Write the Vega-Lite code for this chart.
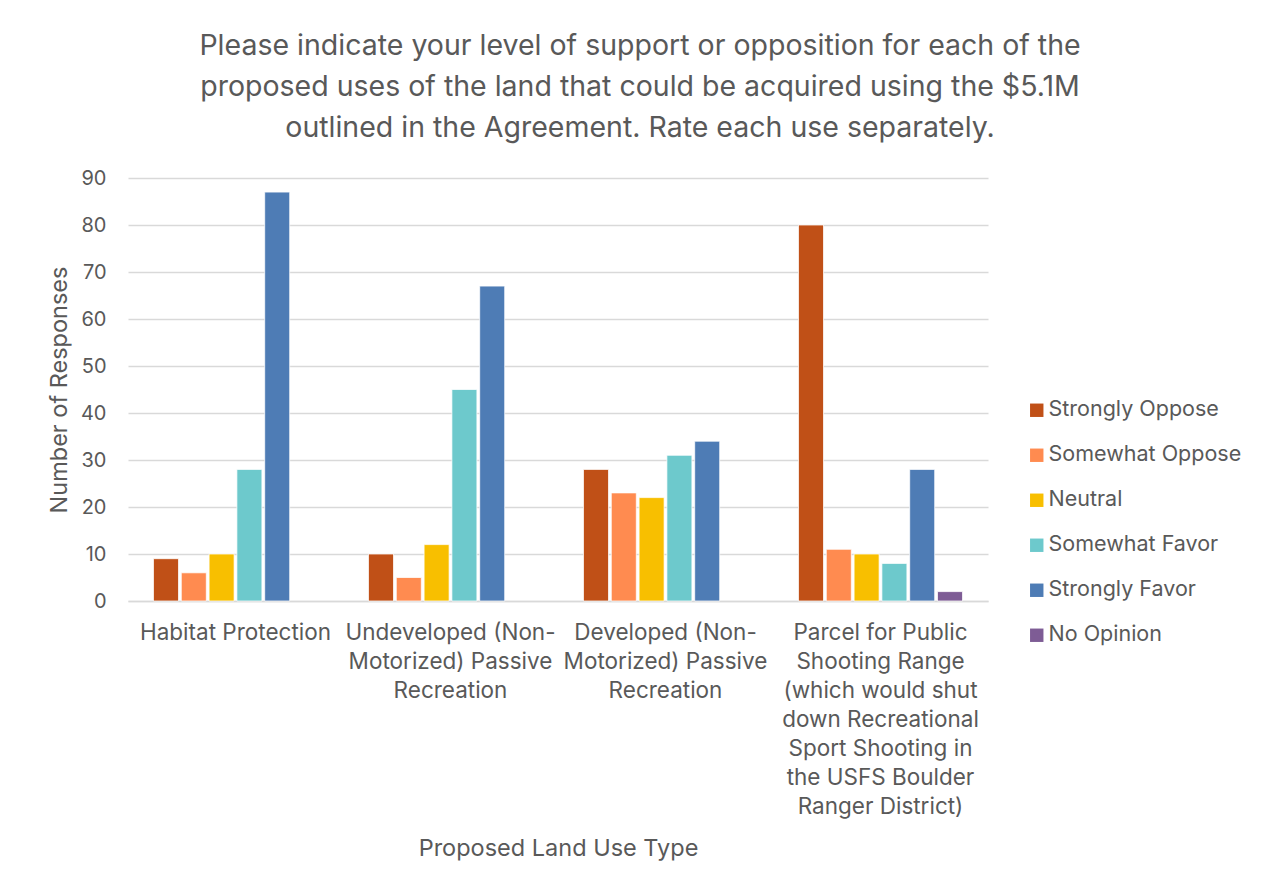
{
  "$schema": "https://vega.github.io/schema/vega-lite/v6.json",
  "width": 860,
  "height": 423,
  "autosize": {"type": "none"},
  "padding": {"left": 128, "top": 178, "right": 283, "bottom": 287},
  "background": "white",
  "title": {
    "text": [
      "Please indicate your level of support or opposition for each of the",
      "proposed uses of the land that could be acquired using the $5.1M",
      "outlined in the Agreement. Rate each use separately."
    ],
    "anchor": "middle",
    "dx": 82,
    "fontSize": 28.5,
    "lineHeight": 41,
    "font": "Inter",
    "fontWeight": "normal",
    "color": "#595959",
    "offset": 26
  },
  "data": {
    "values": [
      {"use": "Habitat Protection", "response": "Strongly Oppose", "count": 9},
      {"use": "Habitat Protection", "response": "Somewhat Oppose", "count": 6},
      {"use": "Habitat Protection", "response": "Neutral", "count": 10},
      {"use": "Habitat Protection", "response": "Somewhat Favor", "count": 28},
      {"use": "Habitat Protection", "response": "Strongly Favor", "count": 87},
      {"use": "Undeveloped (Non-Motorized) Passive Recreation", "response": "Strongly Oppose", "count": 10},
      {"use": "Undeveloped (Non-Motorized) Passive Recreation", "response": "Somewhat Oppose", "count": 5},
      {"use": "Undeveloped (Non-Motorized) Passive Recreation", "response": "Neutral", "count": 12},
      {"use": "Undeveloped (Non-Motorized) Passive Recreation", "response": "Somewhat Favor", "count": 45},
      {"use": "Undeveloped (Non-Motorized) Passive Recreation", "response": "Strongly Favor", "count": 67},
      {"use": "Developed (Non-Motorized) Passive Recreation", "response": "Strongly Oppose", "count": 28},
      {"use": "Developed (Non-Motorized) Passive Recreation", "response": "Somewhat Oppose", "count": 23},
      {"use": "Developed (Non-Motorized) Passive Recreation", "response": "Neutral", "count": 22},
      {"use": "Developed (Non-Motorized) Passive Recreation", "response": "Somewhat Favor", "count": 31},
      {"use": "Developed (Non-Motorized) Passive Recreation", "response": "Strongly Favor", "count": 34},
      {"use": "Parcel for Public Shooting Range", "response": "Strongly Oppose", "count": 80},
      {"use": "Parcel for Public Shooting Range", "response": "Somewhat Oppose", "count": 11},
      {"use": "Parcel for Public Shooting Range", "response": "Neutral", "count": 10},
      {"use": "Parcel for Public Shooting Range", "response": "Somewhat Favor", "count": 8},
      {"use": "Parcel for Public Shooting Range", "response": "Strongly Favor", "count": 28},
      {"use": "Parcel for Public Shooting Range", "response": "No Opinion", "count": 2}
    ]
  },
  "mark": {"type": "bar", "stroke": "white", "strokeWidth": 0.75},
  "encoding": {
    "x": {
      "field": "use",
      "type": "nominal",
      "sort": null,
      "scale": {"paddingInner": 0.237, "paddingOuter": 0.1185},
      "axis": {
        "title": "Proposed Land Use Type",
        "titleFont": "Inter",
        "titleFontSize": 23.5,
        "titleFontWeight": "normal",
        "titleColor": "#595959",
        "titlePadding": 35,
        "labelAngle": 0,
        "labelFont": "Inter",
        "labelFontSize": 22.5,
        "labelColor": "#595959",
        "labelLineHeight": 29,
        "labelBaseline": "top",
        "labelPadding": 20,
        "labelLimit": 0,
        "labelExpr": "datum.value == 'Habitat Protection' ? ['Habitat Protection'] : datum.value == 'Undeveloped (Non-Motorized) Passive Recreation' ? ['Undeveloped (Non-', 'Motorized) Passive', 'Recreation'] : datum.value == 'Developed (Non-Motorized) Passive Recreation' ? ['Developed (Non-', 'Motorized) Passive', 'Recreation'] : ['Parcel for Public', 'Shooting Range', '(which would shut', 'down Recreational', 'Sport Shooting in', 'the USFS Boulder', 'Ranger District)']",
        "ticks": false,
        "domainColor": "#D9D9D9",
        "domainWidth": 1.5,
        "grid": false
      }
    },
    "xOffset": {
      "field": "response",
      "type": "nominal",
      "scale": {
        "domain": ["Strongly Oppose", "Somewhat Oppose", "Neutral", "Somewhat Favor", "Strongly Favor", "No Opinion"],
        "paddingInner": 0.1,
        "paddingOuter": 0
      }
    },
    "y": {
      "field": "count",
      "type": "quantitative",
      "scale": {"domain": [0, 90], "nice": false},
      "axis": {
        "title": "Number of Responses",
        "titleFont": "Inter",
        "titleFontSize": 23.5,
        "titleFontWeight": "normal",
        "titleColor": "#595959",
        "titlePadding": 9,
        "values": [0, 10, 20, 30, 40, 50, 60, 70, 80, 90],
        "labelFont": "Inter",
        "labelFontSize": 20,
        "labelColor": "#595959",
        "labelPadding": 22,
        "ticks": false,
        "domain": false,
        "gridColor": "#D9D9D9",
        "gridWidth": 1.5
      }
    },
    "color": {
      "field": "response",
      "type": "nominal",
      "scale": {
        "domain": ["Strongly Oppose", "Somewhat Oppose", "Neutral", "Somewhat Favor", "Strongly Favor", "No Opinion"],
        "range": ["#C05017", "#FF8B50", "#F8BF00", "#6DC9CC", "#4E7CB5", "#7E5C95"]
      },
      "legend": {
        "title": null,
        "orient": "none",
        "legendX": 898,
        "legendY": 221.5,
        "padding": 0,
        "symbolType": "square",
        "symbolSize": 180,
        "symbolStrokeWidth": 0,
        "labelFont": "Inter",
        "labelFontSize": 21.5,
        "labelColor": "#595959",
        "labelOffset": 1,
        "labelLimit": 0,
        "rowPadding": 22
      }
    }
  },
  "config": {
    "view": {"stroke": null}
  }
}
